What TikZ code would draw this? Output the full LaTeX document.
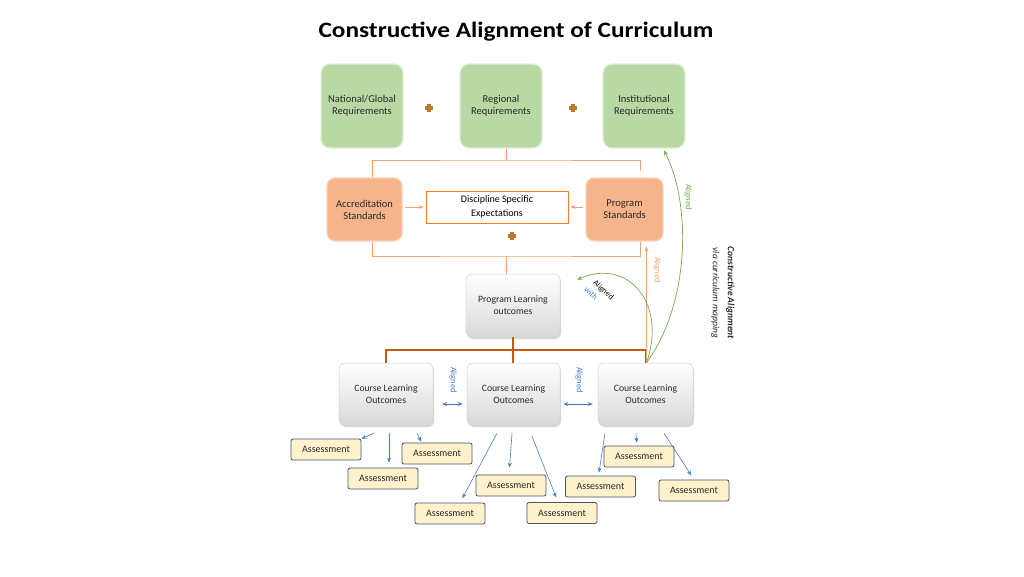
\documentclass[tikz,border=0pt]{standalone}
\usepackage{fontspec}
\setmainfont{Carlito}
\usetikzlibrary{arrows.meta,shadows}
\definecolor{gfill}{RGB}{184,217,163}
\definecolor{gdraw}{RGB}{226,239,217}
\definecolor{ofill}{RGB}{245,180,138}
\definecolor{odraw}{RGB}{250,210,185}
\definecolor{oline}{RGB}{240,163,115}
\definecolor{odark}{RGB}{197,90,17}
\definecolor{oborder}{RGB}{237,125,49}
\definecolor{afill}{RGB}{255,242,204}
\definecolor{adraw}{RGB}{68,84,106}
\definecolor{bline}{RGB}{74,126,192}
\definecolor{gline}{RGB}{112,173,71}
\definecolor{plusc}{RGB}{192,120,44}
\definecolor{txt}{RGB}{40,40,40}
\tikzset{
  greenbox/.style={draw=gdraw, line width=1.2pt, fill=gfill, rounded corners=9pt,
    minimum width=82pt, minimum height=84pt, inner sep=0pt, align=center, text=txt,
    font=\fontsize{10.5}{12}\selectfont},
  orangebox/.style={draw=odraw, line width=1.2pt, fill=ofill, rounded corners=8pt,
    minimum height=63pt, inner sep=0pt, align=center, text=txt,
    font=\fontsize{10.5}{12}\selectfont},
  dsebox/.style={draw=oborder, line width=0.9pt, fill=white, minimum width=142pt,
    minimum height=32pt, inner sep=0pt, align=center, text=black,
    font=\fontsize{10}{14}\selectfont},
  graybox/.style={draw=black!18, line width=0.5pt, top color=white, bottom color=black!15,
    rounded corners=6pt, minimum height=62pt, inner sep=0pt, align=center, text=txt,
    drop shadow={shadow xshift=1pt, shadow yshift=-2pt, fill=black!25, opacity=0.6},
    font=\fontsize{9.7}{12}\selectfont},
  assessbox/.style={draw=adraw, line width=0.8pt, fill=afill, rounded corners=2pt,
    minimum width=70pt, minimum height=21pt, inner sep=0pt, text=txt,
    font=\fontsize{10}{11}\selectfont},
  plusmark/.style={minimum size=9pt, inner sep=0pt,
    path picture={
      \fill[plusc] ([xshift=-4pt,yshift=-1.6pt]path picture bounding box.center) rectangle ([xshift=4pt,yshift=1.6pt]path picture bounding box.center);
      \fill[plusc] ([xshift=-1.6pt,yshift=-4pt]path picture bounding box.center) rectangle ([xshift=1.6pt,yshift=4pt]path picture bounding box.center);
    }},
  oconn/.style={draw=oline, line width=0.8pt},
  oarrow/.style={draw=oline, line width=0.8pt, -{Stealth[length=5pt,width=4pt]}},
  darkconn/.style={draw=odark, line width=1.5pt},
  barrow/.style={draw=bline, line width=0.6pt, -{Stealth[length=5pt,width=4pt]}},
  bbarrow/.style={draw=bline, line width=0.6pt, {Stealth[length=5pt,width=4pt]}-{Stealth[length=5pt,width=4pt]}},
  garrow/.style={draw=gline, line width=0.7pt, -{Stealth[length=5pt,width=4pt]}},
  smalllabel/.style={inner sep=0pt, font=\fontsize{8.5}{9}\selectfont}
}
\begin{document}
\begin{tikzpicture}[x=1pt,y=-1pt]
\fill[white] (0,0) rectangle (1024,576);
\useasboundingbox (0,0) rectangle (1024,576);

\node[font=\bfseries\fontsize{22}{24}\selectfont, text=black, inner sep=0pt] (title) at (516,32) {\scalebox{1.15}[1]{Constructive Alignment of Curriculum}};

% top requirements
\node[greenbox] (ng) at (362,106) {National/Global\\Requirements};
\node[greenbox] (rg) at (501,106) {Regional\\Requirements};
\node[greenbox] (ig) at (644,106) {Institutional\\Requirements};
\node[plusmark] (p1) at (429,108) {};
\node[plusmark] (p2) at (573,108) {};

% standards
\node[orangebox, minimum width=75pt] (acc) at (364.5,209.5) {Accreditation\\Standards};
\node[orangebox, minimum width=77pt] (ps) at (624.5,209.5) {Program\\Standards};
\node[dsebox] (dse) at (497,207) {Discipline Specific\\Expectations};
\node[plusmark] (p3) at (512,236) {};

% program learning outcomes
\node[graybox, minimum width=94pt, minimum height=63pt] (plo) at (513,305.5) {Program Learning\\outcomes};

% course learning outcomes
\node[graybox, minimum width=94pt] (clo1) at (386,394) {Course Learning\\Outcomes};
\node[graybox, minimum width=93pt] (clo2) at (513.5,394) {Course Learning\\Outcomes};
\node[graybox, minimum width=95pt] (clo3) at (645.5,394) {Course Learning\\Outcomes};

% assessments
\node[assessbox] (a1) at (326,449.5) {Assessment};
\node[assessbox] (a2) at (437,453.5) {Assessment};
\node[assessbox] (a3) at (383,478.5) {Assessment};
\node[assessbox] (a4) at (450,513.5) {Assessment};
\node[assessbox] (a5) at (511,485.5) {Assessment};
\node[assessbox] (a6) at (562,513) {Assessment};
\node[assessbox] (a7) at (600.5,486.5) {Assessment};
\node[assessbox] (a8) at (639,456.5) {Assessment};
\node[assessbox] (a9) at (694,490.5) {Assessment};

% top bracket
\coordinate (tb) at (506,160);
\draw[oconn] (rg.south -| tb) -- (tb);
\draw[oconn] ([xshift=8pt]acc.north) |- (tb) -| ([xshift=15.5pt,yshift=6pt]ps.north);

% lower bracket
\coordinate (lb) at (506,256);
\draw[oconn] ([xshift=8pt]acc.south) |- (lb) -| ([xshift=15.5pt]ps.south);
\draw[oconn] (lb) -- (lb |- plo.north);

% arrows into discipline expectations
\draw[oarrow, shorten <=2pt, shorten >=2pt] (acc.east |- dse.west) -- (dse.west);
\draw[oarrow, shorten <=2pt, shorten >=2pt] (ps.west |- dse.east) -- (dse.east);

% PLO to CLO bracket
\draw[darkconn] (clo1.north) -- ++(0,-13) -| (clo3.north);
\draw[darkconn] (plo.south) -- (plo.south |- clo2.north);

% CLO alignments
\draw[bbarrow, shorten <=9pt, shorten >=4pt] ([yshift=-10pt]clo1.east) -- ([yshift=-10pt]clo2.west);
\draw[bbarrow, shorten <=3pt, shorten >=5pt] ([yshift=-10pt]clo2.east) -- ([yshift=-10pt]clo3.west);
\node[smalllabel, text=bline, rotate=-90] (al1) at (453,380) {Aligned};
\node[smalllabel, text=bline, rotate=-90] (al2) at (579,380) {Aligned};

% CLO to assessments
\draw[barrow] ([xshift=-12pt,yshift=-8pt]clo1.south) -- (a1.north east);
\draw[barrow, shorten >=5pt] ([xshift=3pt,yshift=-8pt]clo1.south) -- ([xshift=6pt]a3.north);
\draw[barrow, shorten >=1pt] ([xshift=31pt,yshift=-8pt]clo1.south) -- ([xshift=20pt]a2.north west);
\draw[barrow, shorten >=5pt] ([xshift=-16.5pt,yshift=-8pt]clo2.south) -- ([xshift=10pt]a4.north);
\draw[barrow, shorten >=7pt] ([xshift=-1.5pt,yshift=-8pt]clo2.south) -- ([xshift=-2pt]a5.north);
\draw[barrow, shorten >=5pt] ([xshift=18.5pt,yshift=-11pt]clo2.south) -- ([xshift=-4pt]a6.north);
\draw[barrow, shorten >=3pt] ([xshift=-40.5pt,yshift=-8pt]clo3.south) -- ([xshift=-2pt]a7.north);
\draw[barrow, shorten >=3pt] ([xshift=-9.5pt,yshift=-8pt]clo3.south) -- ([xshift=-2pt]a8.north);
\draw[barrow, shorten >=5pt] ([xshift=18.5pt,yshift=-8pt]clo3.south) -- (a9.north);

% aligned to program standards
\draw[oarrow, shorten >=5pt] ([xshift=1pt]clo3.north) -- ([xshift=22pt]ps.south);
\node[smalllabel, text=oline, rotate=-90] (alo) at (657,270) {Aligned};

% aligned to institutional requirements
\draw[garrow, shorten >=2pt] ([xshift=1pt]clo3.north) .. controls (692,300) and (690,200) .. ([xshift=19pt]ig.south);
\node[smalllabel, text=gline, rotate=-90] (alg) at (688,197) {Aligned};

% aligned with PLO
\draw[garrow] ([xshift=1pt]clo3.north) .. controls (668,300) and (625,258) .. ([xshift=17pt,yshift=-6pt]plo.north east);
\node[smalllabel, align=left, rotate=-42, font=\fontsize{8}{11}\selectfont] (alw) at (600,294)
  {\textcolor{black}{Aligned}\\\hspace*{-2pt}\textcolor{bline}{with}};

% side caption
\node[rotate=-90, align=center, inner sep=0pt, text=txt, font=\fontsize{9.5}{15}\selectfont] (side) at (723,293)
  {\textbf{\textit{Constructive Alignment}}\\\textit{via curriculum mapping}};
\end{tikzpicture}
\end{document}
